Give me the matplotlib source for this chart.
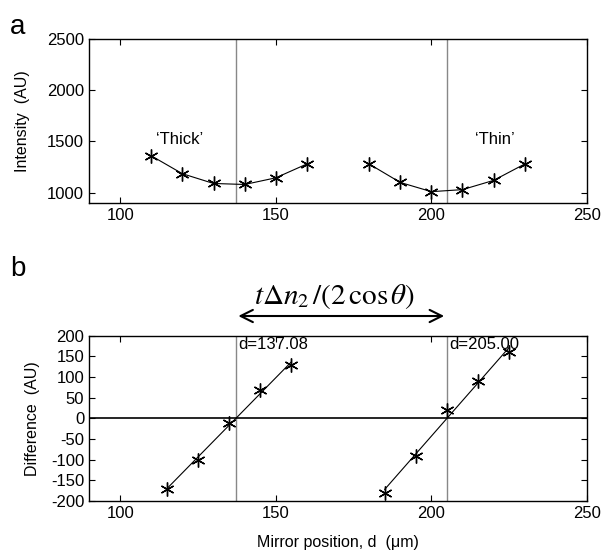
import numpy as np
import matplotlib.pyplot as plt

plt.rcParams['font.family'] = ['Liberation Sans', 'DejaVu Sans']
plt.rcParams['mathtext.fontset'] = 'stix'
plt.rcParams['axes.unicode_minus'] = False

# panel a: intensity vs mirror position
thick_x = [110, 120, 130, 140, 150, 160]
thick_y = [1360, 1185, 1090, 1080, 1145, 1280]
thin_x = [180, 190, 200, 210, 220, 230]
thin_y = [1280, 1100, 1010, 1030, 1120, 1280]

# panel b: difference vs mirror position
diff1_x = [115, 125, 135, 145, 155]
diff1_y = [-170, -100, -12, 68, 130]
diff2_x = [185, 195, 205, 215, 225]
diff2_y = [-180, -90, 20, 90, 160]

d_marks = [137.08, 205.00]
xticks = [100, 150, 200, 250]

star = (6, 2, 0)

fig = plt.figure(figsize=(6.11, 5.56), dpi=100)
ax1 = fig.add_axes([0.1457, 0.635, 0.815, 0.295])
ax2 = fig.add_axes([0.1457, 0.099, 0.815, 0.297])

for ax in (ax1, ax2):
    ax.tick_params(direction='in', top=True, right=True, labelsize=12, length=4, width=0.8)
    ax.set_xlim(90, 250)
    ax.set_xticks(xticks)
    for s in ax.spines.values():
        s.set_linewidth(1.0)
    for d in d_marks:
        ax.axvline(d, color='#888888', lw=1.0, zorder=1)

# panel a
ax1.plot(thick_x, thick_y, color='black', lw=0.8, marker=star, ms=10, mew=1.0)
ax1.plot(thin_x, thin_y, color='black', lw=0.8, marker=star, ms=10, mew=1.0)
ax1.set_ylim(900, 2500)
ax1.set_yticks([1000, 1500, 2000, 2500])
ax1.set_ylabel('Intensity  (AU)', fontsize=11.5, labelpad=12)
ax1.text(119, 1515, "\u2018Thick\u2019", fontsize=12, ha='center', va='center')
ax1.text(220.5, 1515, "\u2018Thin\u2019", fontsize=12, ha='center', va='center')

# panel b
ax2.axhline(0, color='black', lw=1.2, zorder=1)
for xs, ys in ((diff1_x, diff1_y), (diff2_x, diff2_y)):
    ax2.plot(xs, ys, ls='none', color='black', marker=star, ms=10, mew=1.0)
    p = np.polyfit(xs, ys, 1)
    xf = np.array([xs[0], xs[-1]])
    ax2.plot(xf, np.polyval(p, xf), color='black', lw=0.8)
ax2.set_ylim(-200, 200)
ax2.set_yticks(np.arange(-200, 201, 50))
ax2.set_ylabel('Difference  (AU)', fontsize=11.5, labelpad=8)
ax2.set_xlabel('Mirror position, d  (\u03bcm)', fontsize=11.5, labelpad=10)
for d in d_marks:
    ax2.text(d + 0.8, 198, 'd=%.2f' % d, fontsize=12, ha='left', va='top')

ax2.annotate('', xy=(d_marks[0], 1.12), xytext=(d_marks[1], 1.12),
             xycoords=('data', 'axes fraction'), textcoords=('data', 'axes fraction'),
             arrowprops=dict(arrowstyle='<->', lw=1.5, color='black',
                             mutation_scale=22), annotation_clip=False)
ax2.text(169, 1.15, r'$t\Delta n_2\,/\left(2\,\cos\theta\right)$', fontsize=21,
         transform=ax2.get_xaxis_transform(), ha='center', va='bottom')

fig.text(0.016, 0.975, 'a', fontsize=20, va='top')
fig.text(0.016, 0.54, 'b', fontsize=20, va='top')

fig.savefig('out.png', dpi=100)
